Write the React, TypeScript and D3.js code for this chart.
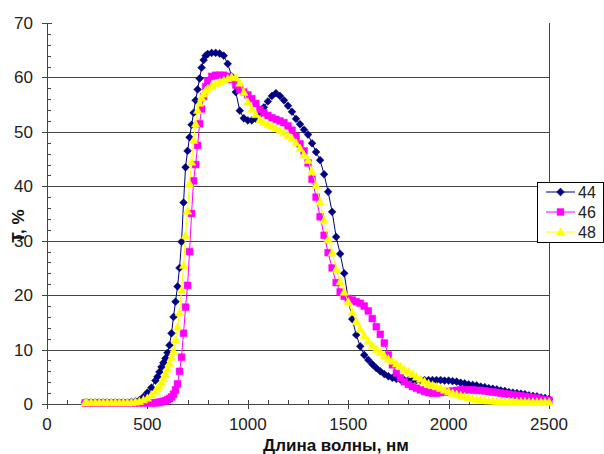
import React from "react";
import * as d3 from "d3";

const wavelengths = [
  190, 200, 220, 240, 260, 280, 300, 320, 340, 360, 380, 400, 420, 440, 460, 480, 500, 520, 540,
  550, 560, 570, 580, 590, 600, 610, 620, 630, 640, 650, 660, 670, 680, 690, 700, 710, 720, 730, 740, 750, 760, 770, 780, 790, 800,
  820, 840, 860, 880, 900, 920, 940, 960, 980, 1000,
  1020, 1040, 1060, 1080, 1100, 1120, 1140, 1160, 1180, 1200,
  1220, 1240, 1260, 1280, 1300, 1320, 1340, 1360, 1380, 1400,
  1420, 1440, 1460, 1480, 1500, 1520, 1540, 1560, 1580, 1600,
  1620, 1640, 1660, 1680, 1700, 1720, 1740, 1760, 1780, 1800,
  1820, 1840, 1860, 1880, 1900, 1920, 1940, 1960, 1980, 2000,
  2020, 2040, 2060, 2080, 2100, 2120, 2140, 2160, 2180, 2200,
  2220, 2240, 2260, 2280, 2300, 2320, 2340, 2360, 2380, 2400,
  2420, 2440, 2460, 2480, 2500,
];

const series44 = [
  0.3, 0.3, 0.3, 0.3, 0.3, 0.3, 0.3, 0.3, 0.3, 0.3, 0.3, 0.3, 0.4, 0.5, 0.7, 1.3, 2.1, 3.0, 4.3,
  5.0, 5.9, 6.8, 7.6, 8.4, 9.4, 10.8, 13.0, 16.0, 18.8, 21.6, 25.0, 29.8, 37.0, 43.5, 46.5, 49.0, 51.3, 53.5, 55.8, 57.8, 59.8, 61.8, 63.2, 64.0, 64.3,
  64.5, 64.5, 64.4, 64.0, 62.5, 60.2, 57.3, 53.9, 52.5, 52.1,
  52.1, 52.4, 53.2, 54.5, 55.6, 56.6, 57.1, 56.6, 55.8, 54.8,
  53.7, 52.4, 51.4, 50.4, 49.5, 47.9, 46.3, 44.8, 42.2, 39.0,
  35.3, 30.7, 27.6, 24.0, 19.3, 15.6, 12.7, 10.6, 9.0, 8.1,
  7.3, 6.6, 6.0, 5.5, 5.1, 4.8, 4.6, 4.5, 4.4, 4.4,
  4.4, 4.4, 4.4, 4.4, 4.4, 4.4, 4.4, 4.4, 4.3, 4.3,
  4.2, 4.1, 3.9, 3.8, 3.6, 3.5, 3.4, 3.2, 3.1, 2.9,
  2.8, 2.7, 2.5, 2.4, 2.2, 2.1, 2.0, 1.9, 1.8, 1.6,
  1.5, 1.4, 1.2, 1.1, 0.9,
];

const series46 = [
  0.2, 0.2, 0.2, 0.2, 0.2, 0.2, 0.2, 0.2, 0.2, 0.2, 0.2, 0.2, 0.2, 0.2, 0.2, 0.2, 0.2, 0.2, 0.2,
  0.3, 0.3, 0.4, 0.5, 0.6, 0.8, 1.0, 1.3, 1.8, 2.6, 3.7, 6.0, 8.6, 13.0, 17.8, 21.8, 28.0, 35.0, 41.0, 44.0, 47.5, 51.5, 54.2, 56.5, 58.3, 59.3,
  60.2, 60.4, 60.4, 60.4, 60.2, 59.6, 58.6, 57.8, 57.3, 56.8,
  56.1, 55.2, 54.1, 53.5, 53.0, 52.6, 52.3, 52.0, 51.7, 51.1,
  50.3, 49.2, 47.8, 46.5, 44.3, 41.3, 38.0, 34.4, 31.0, 27.8,
  25.0, 22.3, 20.6, 19.8, 19.4, 19.1, 18.8, 18.5, 18.0, 17.1,
  15.7, 14.2, 12.8, 11.2, 9.0, 7.2, 5.7, 4.8, 4.1, 3.6,
  3.2, 2.9, 2.6, 2.3, 2.1, 2.0, 2.0, 2.1, 2.2, 2.3,
  2.4, 2.5, 2.6, 2.6, 2.6, 2.6, 2.5, 2.5, 2.4, 2.3,
  2.2, 2.1, 2.0, 1.9, 1.8, 1.7, 1.6, 1.5, 1.4, 1.3,
  1.2, 1.1, 0.9, 0.8, 0.7,
];

const series48 = [
  0.3, 0.3, 0.3, 0.3, 0.3, 0.3, 0.3, 0.3, 0.3, 0.3, 0.3, 0.3, 0.3, 0.4, 0.5, 0.8, 1.1, 1.7, 2.4,
  2.9, 3.4, 4.0, 4.7, 5.5, 6.5, 7.5, 8.6, 9.7, 11.8, 14.2, 16.8, 21.0, 25.5, 31.0, 35.5, 40.5, 44.5, 48.5, 51.5, 54.0, 55.3, 56.3, 57.0, 57.6, 58.0,
  58.5, 58.9, 59.2, 59.5, 59.8, 60.1, 60.0, 59.0, 57.3, 55.5,
  54.2, 53.2, 52.3, 51.8, 51.4, 51.1, 50.7, 50.3, 49.9, 49.4,
  48.8, 48.0, 47.0, 45.8, 44.8, 42.8, 40.2, 37.2, 33.8, 30.3,
  27.8, 24.8, 22.5, 20.6, 18.8, 16.9, 15.2, 13.8, 12.6, 11.6,
  10.8, 10.1, 9.5, 8.9, 8.3, 7.9, 7.4, 6.9, 6.4, 6.0,
  5.5, 5.0, 4.6, 4.2, 3.8, 3.5, 3.2, 2.9, 2.6, 2.3,
  2.0, 1.8, 1.6, 1.4, 1.2, 1.0, 0.9, 0.8, 0.7, 0.6,
  0.6, 0.5, 0.5, 0.5, 0.5, 0.5, 0.5, 0.5, 0.5, 0.4,
  0.4, 0.4, 0.4, 0.4, 0.4,
];

const seriesNames = ["44", "46", "48"];
const seriesValues = [series44, series46, series48];
const seriesColors = ["#000080", "#FF00FF", "#FFFF00"];
const seriesMarkers = ["diamond", "square", "triangle"];

const xTicks = [0, 500, 1000, 1500, 2000, 2500];
const yTicks = [0, 10, 20, 30, 40, 50, 60, 70];
const xMinorTicks = d3.range(0, 2501, 100);
const yMinorTicks = d3.range(0, 70.1, 2);

const xTitle = "Длина волны, нм";
const yTitle = "Т, %";

const W = 604;
const H = 454;
const L = 47;
const R = 549;
const T = 23;
const B = 404;
const FONT = "Arial, 'Liberation Sans', sans-serif";

function markerPath(kind: string, cx: number, cy: number): string {
  if (kind === "diamond") {
    const a = 3.9;
    return `M${cx},${cy - a}L${cx + a},${cy}L${cx},${cy + a}L${cx - a},${cy}Z`;
  }
  if (kind === "square") {
    const a = 3.4;
    return `M${cx - a},${cy - a}H${cx + a}V${cy + a}H${cx - a}Z`;
  }
  const a = 4.2;
  return `M${cx},${cy - a}L${cx + a},${cy + a * 0.8}L${cx - a},${cy + a * 0.8}Z`;
}

export default function App() {
  const x = d3.scaleLinear().domain([0, 2500]).range([L, R]);
  const y = d3.scaleLinear().domain([0, 70]).range([B, T]);
  const line = d3
    .line<number>()
    .x((_, i) => x(wavelengths[i]))
    .y((d) => y(d));

  const legendX = 537;
  const legendY = 182;
  const legendRowY = [192, 212, 232];

  return (
    <svg
      width={W}
      height={H}
      style={{ position: "absolute", left: 0, top: 0, background: "#fff" }}
      fontFamily={FONT}
    >
      <rect x={0} y={0} width={W} height={H} fill="#fff" />
      {yTicks
        .filter((t) => t > 0 && t < 70)
        .map((t) => (
          <line key={"g" + t} x1={L} x2={R} y1={Math.round(y(t)) + 0.5} y2={Math.round(y(t)) + 0.5} stroke="#444" strokeWidth={1} />
        ))}
      <line x1={R + 0.5} x2={R + 0.5} y1={T} y2={B} stroke="#444" strokeWidth={1} />
      <line x1={L + 0.5} x2={L + 0.5} y1={T} y2={B} stroke="#444" strokeWidth={1} />
      <line x1={L} x2={R} y1={B + 0.5} y2={B + 0.5} stroke="#444" strokeWidth={1} />
      {yMinorTicks.map((t) => (
        <line key={"ym" + t} x1={L} x2={L + 4} y1={Math.round(y(t)) + 0.5} y2={Math.round(y(t)) + 0.5} stroke="#444" />
      ))}
      {yTicks.map((t) => (
        <line key={"yt" + t} x1={L - 5} x2={L + 5} y1={Math.round(y(t)) + 0.5} y2={Math.round(y(t)) + 0.5} stroke="#444" />
      ))}
      {xMinorTicks.map((t) => (
        <line key={"xm" + t} x1={Math.round(x(t)) + 0.5} x2={Math.round(x(t)) + 0.5} y1={B - 4} y2={B} stroke="#444" />
      ))}
      {xTicks.map((t) => (
        <line key={"xt" + t} x1={Math.round(x(t)) + 0.5} x2={Math.round(x(t)) + 0.5} y1={B - 4} y2={B + 5} stroke="#444" />
      ))}
      {yTicks.map((t) => (
        <text key={"yl" + t} x={L - 14} y={y(t)} dy="0.35em" textAnchor="end" fontSize={17} fill="#222">
          {t}
        </text>
      ))}
      {xTicks.map((t) => (
        <text key={"xl" + t} x={x(t)} y={430} textAnchor="middle" fontSize={17} fill="#222">
          {t}
        </text>
      ))}
      <text x={336} y={451} textAnchor="middle" fontSize={17} fontWeight="bold" fill="#111">
        {xTitle}
      </text>
      <text
        transform={`translate(24,226) rotate(-90)`}
        textAnchor="middle"
        fontSize={17}
        fontWeight="bold"
        fill="#111"
      >
        {yTitle}
      </text>
      {seriesValues.map((vals, si) => (
        <g key={"s" + si}>
          <path d={line(vals) || ""} fill="none" stroke={seriesColors[si]} strokeWidth={1} />
          {vals.map((v, i) => (
            <path
              key={i}
              d={markerPath(seriesMarkers[si], x(wavelengths[i]), y(v))}
              fill={seriesColors[si]}
              stroke={seriesColors[si]}
              strokeWidth={0.5}
            />
          ))}
        </g>
      ))}
      <rect x={legendX + 0.5} y={legendY + 0.5} width={W - legendX - 1} height={60} fill="#fff" stroke="#000" strokeWidth={1} />
      {seriesNames.map((n, i) => (
        <g key={"lg" + n}>
          <line x1={546} x2={575} y1={legendRowY[i]} y2={legendRowY[i]} stroke={seriesColors[i]} strokeWidth={1} />
          <path d={markerPath(seriesMarkers[i], 560.5, legendRowY[i])} fill={seriesColors[i]} stroke={seriesColors[i]} strokeWidth={0.5} />
          <text x={578} y={legendRowY[i]} dy="0.35em" fontSize={16} fill="#222">
            {n}
          </text>
        </g>
      ))}
    </svg>
  );
}
